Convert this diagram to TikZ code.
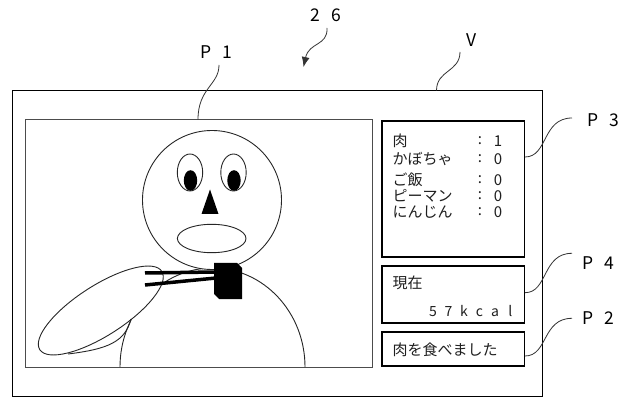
\documentclass[tikz,border=0pt]{standalone}
\usepackage{fontspec}
\setmainfont{Noto Sans CJK JP}
\usetikzlibrary{arrows.meta}

% two characters set on a fixed pitch, as in the reference numerals
\newcommand{\pitched}[3]{\makebox[#1]{#2}\makebox[#1]{#3}}

\begin{document}
\begin{tikzpicture}[x=1pt,y=-1pt,
  boxframe/.style={draw=black, line width=1.6pt, inner sep=0pt, outer sep=0pt},
  outline/.style={draw=black!85, line width=0.9pt},
  leader/.style={draw=black!80, line width=0.8pt},
  jp/.style={font=\fontsize{15}{17}\selectfont, text=black!88, inner sep=0pt},
  tag/.style={font=\fontsize{17.5}{19}\selectfont, text=black, inner sep=0pt}]

\fill[white] (0,0) rectangle (624,398);
\useasboundingbox (0,0) rectangle (624,398);

% screen and its panels
\node[boxframe, minimum width=530pt, minimum height=306pt] (screen) at (277.5,243.5) {};
\node[boxframe, draw=black!70, minimum width=347pt, minimum height=248pt] (scene) at (199,243.5) {};
\node[boxframe, minimum width=142.5pt, minimum height=136pt] (stock) at (453.25,189) {};
\node[boxframe, minimum width=142.5pt, minimum height=57pt] (kcalbox) at (453.25,294.5) {};
\node[boxframe, minimum width=142.5pt, minimum height=34pt] (msgbox) at (453.25,349) {};

% figure eating with chopsticks
\draw[outline] (120,367) arc[start angle=180, end angle=0, x radius=92.5pt, y radius=99pt];
\draw[outline, fill=white] (212,200) circle[radius=69.5pt];
\draw[outline, fill=white] (190,172.5) ellipse[x radius=12.7pt, y radius=18.5pt];
\draw[outline, fill=white] (233.5,172.5) ellipse[x radius=12.7pt, y radius=18.5pt];
\fill (190.5,180.5) ellipse[x radius=6.7pt, y radius=10.3pt];
\fill (234,180.5) ellipse[x radius=6.7pt, y radius=10.3pt];
\fill (210,189.5) -- (218.5,214) -- (201.5,214) -- cycle;
\draw[outline, fill=white] (211.7,238.5) ellipse[x radius=34.3pt, y radius=14.2pt];
\draw[outline, fill=white, rotate around={32.7:(100.8,310.5)}] (100.8,310.5) ellipse[x radius=72.5pt, y radius=25pt];
\draw[outline] (68,354) .. controls (108,349) and (125,342) .. (131,319);
\draw[line width=3.5pt] (145,273) -- (216,272);
\draw[line width=3.5pt] (145,285) -- (216,278);
\fill (214,263) -- (237,263) -- (242,268) -- (242,299) -- (219,299) -- (214,294) -- cycle;

% panel texts
\node[jp, anchor=west] (meat) at (392.5,141) {肉};
\node[jp, anchor=west] (pumpkin) at (392.5,159) {かぼちゃ};
\node[jp, anchor=west] (rice) at (392.5,180) {ご飯};
\node[jp, anchor=west] (pepper) at (392.5,196) {ピーマン};
\node[jp, anchor=west] (carrot) at (392.5,212) {にんじん};
\foreach \y/\v [count=\i] in {141/1,159/0,180/0,196/0,212/0}{
  \node[jp] (colon\i) at (480,\y) {:};
  \node[jp] (count\i) at (498,\y) {\v};
}
\node[jp, anchor=west] (now) at (392.5,283) {現在};
\node[jp, font=\fontsize{14}{16}\selectfont] (kcal) at (471.7,311.5)
  {\makebox[15.5pt]{5}\makebox[15.5pt]{7}\makebox[15.5pt]{k}\makebox[15.5pt]{c}\makebox[15.5pt]{a}\makebox[15.5pt]{l}};
\node[jp, anchor=west] (msg) at (392.5,350) {肉を食べました};

% reference labels
\node[tag] (l26) at (326.3,15) {\pitched{21pt}{2}{6}};
\node[tag] (lP1) at (216.8,51.7) {\pitched{21pt}{P}{1}};
\node[tag] (lV) at (472,40) {V};
\node[tag] (lP3) at (604,120) {\pitched{21pt}{P}{3}};
\node[tag] (lP4) at (599,263.3) {\pitched{21pt}{P}{4}};
\node[tag] (lP2) at (599,318) {\pitched{21pt}{P}{2}};

% leader ends
\coordinate (e26) at (327,28);
\coordinate (t26) at (303.5,67);
\coordinate (eP1) at (219,65);
\coordinate (tP1) at (198,119.5);
\coordinate (eV) at (460,52);
\coordinate (tV) at (436.5,90.5);
\coordinate (eP3) at (572,118);
\coordinate (tP3) at (525,157);
\coordinate (eP4) at (572,253.3);
\coordinate (tP4) at (525,292.7);
\coordinate (eP2) at (572,318.3);
\coordinate (tP2) at (525,356);

\draw[leader, -{Latex[length=10pt,width=8pt]}] (e26) .. controls (328,46) and (309,42) .. (t26);
\draw[leader] (eP1) .. controls (219,85) and (198,88) .. (tP1);
\draw[leader] (eV) .. controls (460,72) and (436.5,70) .. (tV);
\draw[leader] (tP3) .. controls (548,157) and (542,118) .. (eP3);
\draw[leader] (tP4) .. controls (548,292.7) and (542,253.3) .. (eP4);
\draw[leader] (tP2) .. controls (548,356) and (542,318.3) .. (eP2);
\end{tikzpicture}
\end{document}
